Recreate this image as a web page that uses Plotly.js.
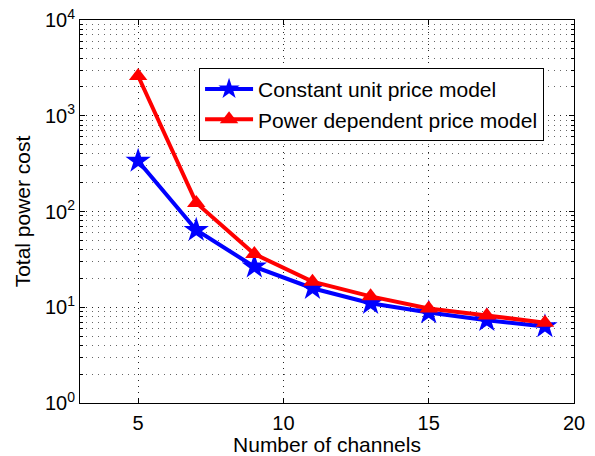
<!DOCTYPE html>
<html>
<head>
<meta charset="utf-8">
<script src="https://cdn.plot.ly/plotly-3.0.1.min.js"></script>
<style>html,body{margin:0;padding:0;background:#fff;}#chart{width:595px;height:456px;}</style>
</head>
<body>
<div id="chart"></div>
<script>
const channels = [5, 7, 9, 11, 13, 15, 17, 19];
const constantPrice = [337, 64, 26.5, 15.8, 11, 8.8, 7.3, 6.3];
const powerPrice = [2600, 123, 36, 18.5, 13, 9.7, 8.2, 6.9];
const seriesNames = ["Constant unit price model", "Power dependent price model"];
const yTickVals = [1, 10, 100, 1000, 10000];
const yTickText = ["10<sup>0</sup>", "10<sup>1</sup>", "10<sup>2</sup>", "10<sup>3</sup>", "10<sup>4</sup>"];
const xTickVals = [5, 10, 15, 20];

const fam = "Liberation Sans, Arial, sans-serif";
const font = {family: fam, size: 21, color: "#000"};
const tickFont = {family: fam, size: 20, color: "#000"};

const traces = [
  {x: channels, y: constantPrice, name: seriesNames[0], type: "scatter", mode: "lines+markers",
   line: {color: "#0000ff", width: 4}, marker: {symbol: "star", size: 19, color: "#0000ff", line: {width: 0}}},
  {x: channels, y: powerPrice, name: seriesNames[1], type: "scatter", mode: "lines+markers",
   line: {color: "#ff0000", width: 4}, marker: {symbol: "triangle-up", size: 16, color: "#ff0000", line: {width: 0}}}
];

const layout = {
  width: 595, height: 456,
  margin: {l: 80, r: 21, t: 20, b: 53},
  paper_bgcolor: "#fff", plot_bgcolor: "#fff",
  font: font,
  showlegend: true,
  legend: {x: 0.241, y: 0.875, xanchor: "left", yanchor: "top", bgcolor: "#fff",
           bordercolor: "#000", borderwidth: 1, font: font, tracegroupgap: 0, itemwidth: 48},
  xaxis: {range: [3, 20], tickvals: xTickVals, ticks: "inside", ticklen: 5, tickcolor: "#000",
          showline: true, linecolor: "#000", linewidth: 1, mirror: "ticks", automargin: false,
          showgrid: true, gridcolor: "#222", griddash: "1px,5px", gridwidth: 1, zeroline: false,
          ticklabelstandoff: 2,
          title: {text: "Number of channels", font: font, standoff: 1}, tickfont: tickFont},
  yaxis: {type: "log", range: [0, 4], tickvals: yTickVals, ticktext: yTickText, ticks: "inside", ticklen: 5,
          tickcolor: "#000", showline: true, linecolor: "#000", linewidth: 1, mirror: "ticks", automargin: false,
          showgrid: true, gridcolor: "#222", griddash: "1px,5px", gridwidth: 1, zeroline: false,
          minor: {dtick: "D1", ticks: "inside", ticklen: 3, tickcolor: "#000", showgrid: true,
                  gridcolor: "#666", griddash: "1px,5px", gridwidth: 1},
          title: {text: "Total power cost", font: font, standoff: 8}, tickfont: tickFont}
};

Plotly.newPlot("chart", traces, layout, {displayModeBar: false, staticPlot: true});
</script>
</body>
</html>
